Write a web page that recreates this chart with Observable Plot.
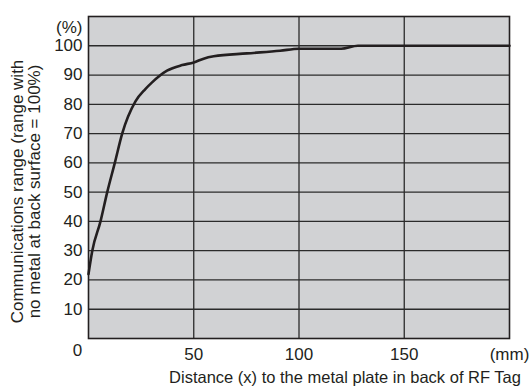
<!DOCTYPE html>
<html>
<head>
<meta charset="utf-8">
<script src="https://cdn.jsdelivr.net/npm/d3@7"></script>
<script src="https://cdn.jsdelivr.net/npm/@observablehq/plot@0.6"></script>
<style>
  html, body { margin: 0; padding: 0; background: #fff; }
  #chart svg { display: block; }
</style>
</head>
<body>
<div id="chart"></div>
<script>
const distance = [0, 1.8, 5.7, 8.9, 12.5, 16, 22.3, 27, 30.2, 37.3, 44.5, 50, 54.7, 59.5, 75.3, 91, 100, 120, 128, 200];
const rangePct = [22, 30, 40, 50, 60, 70, 81, 85.2, 87.5, 91.5, 93.4, 94.3, 95.6, 96.4, 97.4, 98.3, 99, 99, 100, 100];
const yTicks = [10, 20, 30, 40, 50, 60, 70, 80, 90, 100];
const xGrid = [50, 100, 150];
const xTickLabels = [50, 100, 150, 200];
const xUnit = "(mm)";
const yUnit = "(%)";
const xTitle = "Distance (x) to the metal plate in back of RF Tag";
const yTitle1 = "Communications range (range with";
const yTitle2 = "no metal at back surface = 100%)";

const data = distance.map((d, i) => ({x: d, y: rangePct[i]}));
const ink = "#231f20";

const chart = Plot.plot({
  width: 531,
  height: 387,
  marginLeft: 88,
  marginTop: 16,
  marginRight: 22,
  marginBottom: 49,
  style: {fontFamily: "'Liberation Sans', Arial, sans-serif", fontSize: "17px", color: ink, background: "#fff"},
  x: {domain: [0, 200]},
  y: {domain: [0, 110]},
  marks: [
    Plot.frame({fill: "#d1d2d4"}),
    Plot.ruleY(yTicks, {stroke: "#2b2b2b", strokeWidth: 1.3}),
    Plot.ruleX(xGrid, {stroke: "#2b2b2b", strokeWidth: 1.3}),
    Plot.line(data, {x: "x", y: "y", stroke: ink, strokeWidth: 2.6, curve: "monotone-x"}),
    Plot.frame({stroke: ink, strokeWidth: 1.6}),
    Plot.axisY({ticks: yTicks, tickSize: 0, tickPadding: 6, label: null, fontSize: 17}),
    Plot.axisX({ticks: xTickLabels, tickSize: 0, tickPadding: 9, label: null, fontSize: 17,
      tickFormat: d => d === 200 ? xUnit : String(d)}),
    Plot.text([0], {x: d => d, frameAnchor: "bottom", text: d => String(d), dx: -11, dy: 17, fontSize: 17}),
    Plot.text([yUnit], {frameAnchor: "top-left", text: d => d, dx: -6, dy: 4, textAnchor: "end", fontSize: 17}),
    Plot.text([xTitle], {frameAnchor: "bottom", text: d => d, textAnchor: "middle", dx: 46, dy: 44, fontSize: 16.5}),
    Plot.text([yTitle1], {frameAnchor: "left", text: d => d, textAnchor: "middle", rotate: -90, dx: -71, dy: 14, fontSize: 17}),
    Plot.text([yTitle2], {frameAnchor: "left", text: d => d, textAnchor: "middle", rotate: -90, dx: -54, dy: 14, fontSize: 17})
  ]
});
document.getElementById("chart").appendChild(chart);
</script>
</body>
</html>
